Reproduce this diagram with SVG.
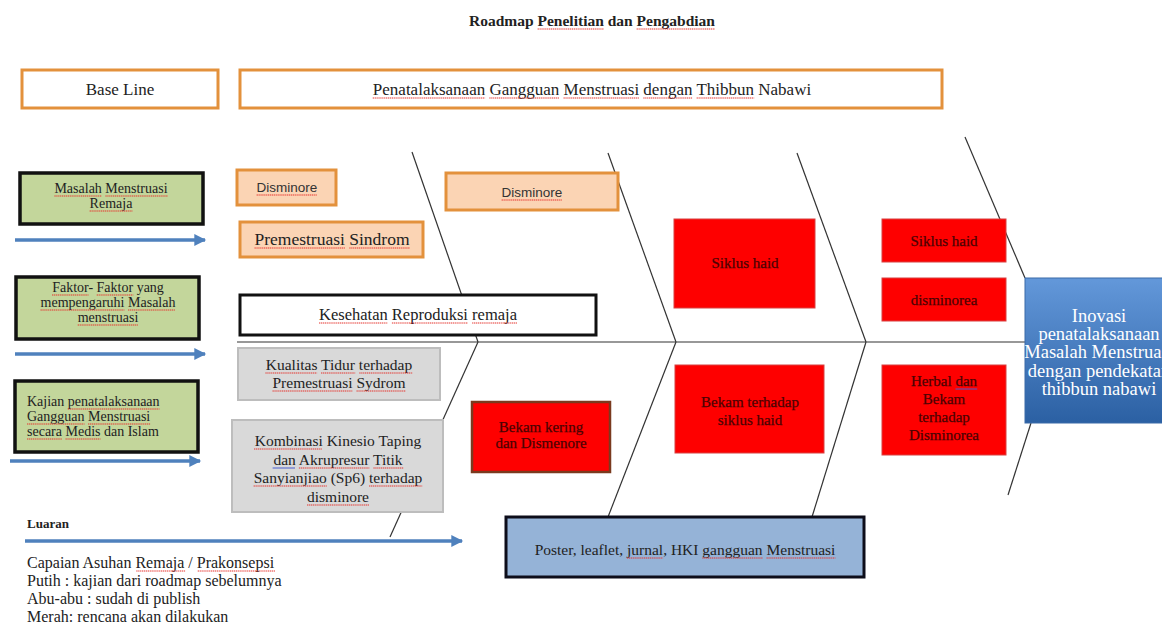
<svg xmlns="http://www.w3.org/2000/svg" width="1162" height="627" viewBox="0 0 1162 627">
<defs>
<style>
.t{font-family:"Liberation Serif","Times New Roman",serif;fill:#222}
.s{font-family:"Liberation Sans",Arial,sans-serif;fill:#333}
.c{text-anchor:middle}
.hdr{fill:#fff;stroke:#e3913c;stroke-width:3}
.org{fill:#fbd4b4;stroke:#e3913c;stroke-width:3}
.grn{fill:#c3d69b;stroke:#111;stroke-width:3.5}
.gry{fill:#d9d9d9;stroke:#bdbdbd;stroke-width:2}
.red{fill:#fe0000;stroke:#d84040;stroke-width:1}
.rt{font-family:"Liberation Serif","Times New Roman",serif;fill:#4a0303;stroke:#4a0303;stroke-width:0.25;text-anchor:middle}
.wt{font-family:"Liberation Serif","Times New Roman",serif;fill:#fff;text-anchor:middle}
.bone{stroke:#333;stroke-width:1.2;fill:none}
.arr{stroke:#4f81bd;stroke-width:3.5;fill:none}
.sq{stroke:#e5352f;stroke-width:1.2;stroke-dasharray:1.3 0.6;fill:none}
.sqb{stroke:#4a5fd0;stroke-width:1.2;fill:none}
</style>
<marker id="ah" viewBox="0 0 10 10" refX="9" refY="5" markerWidth="4" markerHeight="3.4" orient="auto" markerUnits="strokeWidth">
<path d="M0,0 L10,5 L0,10 z" fill="#4f81bd"/>
</marker>
<linearGradient id="blu" x1="0" y1="0" x2="0" y2="1">
<stop offset="0" stop-color="#6398da"/>
<stop offset="1" stop-color="#2b60a3"/>
</linearGradient>
</defs>
<rect width="1162" height="627" fill="#fff"/>

<g id="title">
<text class="t c" x="592" y="26" font-size="15.5" font-weight="bold">Roadmap <tspan>Penelitian</tspan> dan <tspan>Pengabdian</tspan></text>
</g>

<g id="connectors">
<line class="bone" x1="237" y1="342" x2="1025" y2="342" stroke="#555" stroke-width="1.5"/>
<line class="bone" x1="412" y1="152" x2="478" y2="342"/>
<line class="bone" x1="478" y1="342" x2="390" y2="537"/>
<line class="bone" x1="608" y1="153" x2="676" y2="342"/>
<line class="bone" x1="676" y1="342" x2="608" y2="517"/>
<line class="bone" x1="797" y1="153" x2="866" y2="342"/>
<line class="bone" x1="866" y1="342" x2="812" y2="517"/>
<line class="bone" x1="965" y1="137" x2="1025" y2="278"/>
<line class="bone" x1="1031" y1="423" x2="1008" y2="495"/>
<line class="arr" x1="15" y1="240" x2="205" y2="240" marker-end="url(#ah)"/>
<line class="arr" x1="15" y1="354" x2="205" y2="354" marker-end="url(#ah)"/>
<line class="arr" x1="10" y1="461" x2="200" y2="461" marker-end="url(#ah)"/>
<line class="arr" x1="25" y1="541" x2="462" y2="541" marker-end="url(#ah)"/>
</g>

<g id="baseline">
<rect class="hdr" x="22" y="70" width="196" height="38"/>
<text class="t c" x="120" y="95" font-size="17">Base Line</text>
</g>
<g id="header">
<rect class="hdr" x="240" y="70" width="702" height="38"/>
<text class="t c" x="592" y="95" font-size="17"><tspan>Penatalaksanaan</tspan> <tspan>Gangguan</tspan> <tspan>Menstruasi</tspan> <tspan>dengan</tspan> <tspan>Thibbun</tspan> Nabawi</text>
</g>

<g id="g1">
<rect class="grn" x="20" y="173" width="183" height="51"/>
<text class="t c" x="111" y="193" font-size="14"><tspan>Masalah</tspan> <tspan>Menstruasi</tspan></text>
<text class="t c" x="111" y="208" font-size="14"><tspan>Remaja</tspan></text>
</g>
<g id="g2">
<rect class="grn" x="16" y="277" width="183" height="62"/>
<text class="t c" x="108" y="292" font-size="14"><tspan>Faktor</tspan>- <tspan>Faktor</tspan> yang</text>
<text class="t c" x="108" y="307" font-size="14"><tspan>mempengaruhi</tspan> <tspan>Masalah</tspan></text>
<text class="t c" x="108" y="322" font-size="14"><tspan>menstruasi</tspan></text>
</g>
<g id="g3">
<rect class="grn" x="15" y="381" width="183" height="71"/>
<text class="t" x="27" y="406" font-size="14">Kajian <tspan>penatalaksanaan</tspan></text>
<text class="t" x="27" y="421" font-size="14"><tspan>Gangguan</tspan> <tspan>Menstruasi</tspan></text>
<text class="t" x="27" y="436" font-size="14"><tspan>secara</tspan> <tspan>Medis</tspan> dan Islam</text>
</g>

<g id="dis1">
<rect class="org" x="237" y="170" width="99" height="35"/>
<text class="s c" x="287" y="192" font-size="13.5"><tspan>Disminore</tspan></text>
</g>
<g id="pms">
<rect class="org" x="240" y="222" width="183" height="35" stroke="#a9602c"/>
<text class="t c" x="332" y="245" font-size="17.5"><tspan>Premestruasi</tspan> <tspan>Sindrom</tspan></text>
</g>
<g id="dis2">
<rect class="org" x="446" y="173" width="172" height="37"/>
<text class="s c" x="532" y="197" font-size="13.5"><tspan>Disminore</tspan></text>
</g>

<g id="kesehatan">
<rect x="240" y="295" width="356" height="40" fill="#fff" stroke="#111" stroke-width="3"/>
<text class="t c" x="418" y="320" font-size="16.5"><tspan>Kesehatan</tspan> <tspan>Reproduksi</tspan> <tspan>remaja</tspan></text>
</g>

<g id="kualitas">
<rect class="gry" x="238" y="348" width="202" height="52"/>
<text class="t c" x="339" y="370" font-size="15.5"><tspan>Kualitas</tspan> <tspan>Tidur</tspan> <tspan>terhadap</tspan></text>
<text class="t c" x="339" y="388" font-size="15.5"><tspan>Premestruasi</tspan> <tspan>Sydrom</tspan></text>
</g>
<g id="kombinasi">
<rect class="gry" x="232" y="420" width="211" height="92"/>
<text class="t c" x="338" y="446" font-size="15.5"><tspan>Kombinasi</tspan> Kinesio Taping</text>
<text class="t c" x="338" y="465" font-size="15.5"><tspan>dan</tspan> <tspan>Akrupresur</tspan> <tspan>Titik</tspan></text>
<text class="t c" x="338" y="483" font-size="15.5"><tspan>Sanyianjiao</tspan> (Sp6) <tspan>terhadap</tspan></text>
<text class="t c" x="338" y="502" font-size="15.5"><tspan>disminore</tspan></text>
</g>

<g id="bekamkering">
<rect x="472" y="402" width="138" height="70" fill="#fe0000" stroke="#7a3a1e" stroke-width="2.5"/>
<text class="rt" x="541" y="432" font-size="15">Bekam kering</text>
<text class="rt" x="541" y="448" font-size="15">dan Dismenore</text>
</g>
<g id="siklus1">
<rect class="red" x="674" y="219" width="141" height="89"/>
<text class="rt" x="745" y="268" font-size="15">Siklus haid</text>
</g>
<g id="bekamsiklus">
<rect class="red" x="675" y="365" width="149" height="88"/>
<text class="rt" x="750" y="407" font-size="15">Bekam terhadap</text>
<text class="rt" x="750" y="425" font-size="15">siklus haid</text>
</g>
<g id="siklus2">
<rect class="red" x="882" y="219" width="124" height="43"/>
<text class="rt" x="944" y="246" font-size="15">Siklus haid</text>
</g>
<g id="disminorea">
<rect class="red" x="882" y="278" width="124" height="43"/>
<text class="rt" x="944" y="305" font-size="15">disminorea</text>
</g>
<g id="herbal">
<rect class="red" x="882" y="365" width="124" height="90"/>
<text class="rt" x="944" y="386" font-size="15">Herbal <tspan>dan</tspan></text>
<text class="rt" x="944" y="404" font-size="15">Bekam</text>
<text class="rt" x="944" y="422" font-size="15">terhadap</text>
<text class="rt" x="944" y="440" font-size="15">Disminorea</text>
</g>

<g id="inovasi">
<rect x="1025" y="278" width="150" height="145" fill="url(#blu)" stroke="#3a6aa8" stroke-width="1"/>
<text class="wt" x="1099" y="322" font-size="18.5">Inovasi</text>
<text class="wt" x="1099" y="340" font-size="18.5">penatalaksanaan</text>
<text class="wt" x="1099" y="358" font-size="18.5">Masalah Menstruasi</text>
<text class="wt" x="1099" y="377" font-size="18.5">dengan pendekatan</text>
<text class="wt" x="1099" y="395" font-size="18.5">thibbun nabawi</text>
</g>

<g id="poster">
<rect x="506" y="517" width="358" height="60" fill="#95b3d7" stroke="#0d0d1a" stroke-width="3"/>
<text class="t c" x="685" y="555" font-size="15.5">Poster, leaflet, <tspan>jurnal</tspan>, HKI <tspan>gangguan</tspan> <tspan>Menstruasi</tspan></text>
</g>

<g id="legend">
<text class="t" x="27" y="528" font-size="13" font-weight="bold">Luaran</text>
<text class="t" x="27" y="568" font-size="16">Capaian Asuhan <tspan>Remaja</tspan> / <tspan>Prakonsepsi</tspan></text>
<text class="t" x="27" y="586" font-size="16">Putih : kajian dari roadmap sebelumnya</text>
<text class="t" x="27" y="604" font-size="16">Abu-abu : sudah di publish</text>
<text class="t" x="27" y="622" font-size="16">Merah: rencana akan dilakukan</text>
</g>

<g id="spellcheck-marks">
<path class="sq" d="M537.6,29 H603.9 M636.6,29 H715
M372.7,98 H485.1 M489.3,98 H559.2 M563.5,98 H639 M643.3,98 H692.4 M696.6,98 H754.2
M54.4,196 H101.9 M105.4,196 H167.6 M89.6,211 H132.4
M52,295 H88.6 M96.7,295 H133.3 M40.5,310 H124.5 M128,310 H175.5 M77.7,325 H138.3
M67.8,409 H159.5 M27,424 H84.5 M88,424 H150.2 M27,439 H62 M65.5,439 H100.5
M256.6,195 H317.4 M501.6,200 H562.4
M254.5,248 H344.9 M349.3,248 H409.6
M319,323 H387.7 M391.9,323 H468 M472.1,323 H517
M265.4,373 H317.1 M321,373 H355.4 M359.3,373 H412.7 M272.5,391 H352.6 M356.5,391 H405.6
M254,449 H322 M298.9,468 H369.5 M373.4,468 H403.5 M253.6,486 H326.8 M369,486 H422.4 M307,505 H369
M626.9,558 H663.1 M702.3,558 H762.6 M766.5,558 H835.4
M136.3,571 H185.2 M197.7,571 H275"/>
<path class="sqb" d="M272.6,468 H295 M955.5,389 H977.2"/>
</g>
</svg>
